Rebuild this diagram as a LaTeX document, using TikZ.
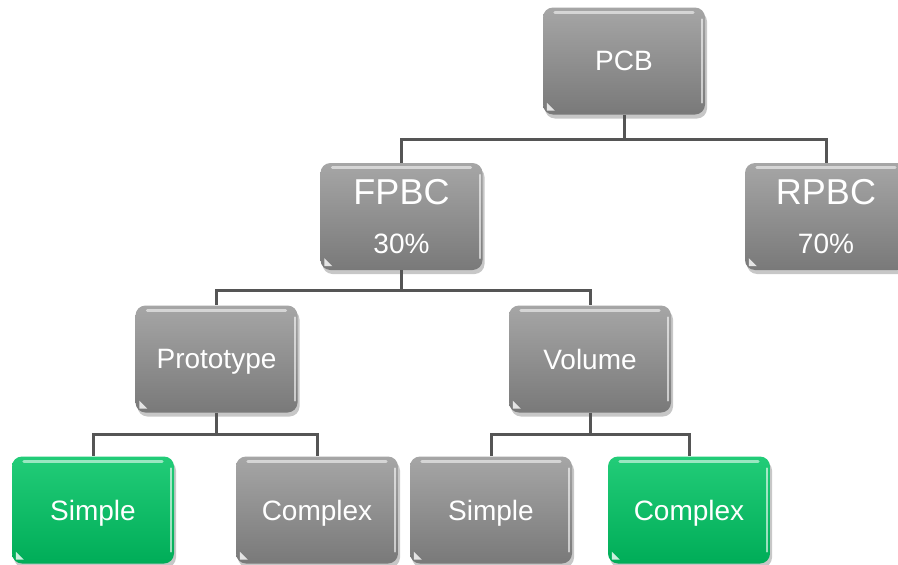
\documentclass[tikz,border=0pt]{standalone}
\usepackage{fontspec}
\setmainfont{Liberation Sans}
\usetikzlibrary{shadows}
\definecolor{boxgrayhi}{HTML}{A6A6A6}
\definecolor{boxgraylo}{HTML}{797979}
\definecolor{boxgreenhi}{HTML}{22CC78}
\definecolor{boxgreenlo}{HTML}{00AD58}
\definecolor{connline}{HTML}{555555}
\tikzset{
  treebox/.style={rounded corners=10pt, minimum width=162pt, minimum height=107pt,
    inner sep=0pt, text=white, font=\fontsize{28}{34}\selectfont, align=center,
    text depth=0pt,
    drop shadow={shadow xshift=2pt, shadow yshift=-4pt, opacity=0.22, fill=black}},
  graybox/.style={treebox, top color=boxgrayhi, bottom color=boxgraylo},
  greenbox/.style={treebox, top color=boxgreenhi, bottom color=boxgreenlo},
  conn/.style={draw=connline, line width=3pt},
  glosstop/.style={white, opacity=0.55, line width=3pt, line cap=round},
  glossside/.style={white, opacity=0.6, line width=2pt, line cap=round},
  glosscorner/.style={fill=white, opacity=0.8}
}
\begin{document}
\begin{tikzpicture}[x=1pt, y=-1pt]
  \clip (0,0) rectangle (898,565);
  \fill[white] (0,0) rectangle (898,565);

  % boxes
  \node[graybox] (pcb) at (624,61) {PCB};
  \node[graybox, font=\fontsize{28}{49}\selectfont] (fpbc) at (401.5,216.5)
    {{\fontsize{36}{49}\selectfont FPBC}\\30\%};
  \node[graybox, font=\fontsize{28}{49}\selectfont] (rpbc) at (826,216.5)
    {{\fontsize{36}{49}\selectfont RPBC}\\70\%};
  \node[graybox] (proto) at (216.5,359) {Prototype};
  \node[graybox] (volume) at (590,359) {Volume};
  \node[greenbox] (psimple) at (93,510) {Simple};
  \node[graybox] (pcomplex) at (317,510) {Complex};
  \node[graybox] (vsimple) at (491,510) {Simple};
  \node[greenbox] (vcomplex) at (689,510) {Complex};

  % glossy highlights on every box
  \foreach \n in {pcb,fpbc,rpbc,proto,volume,psimple,pcomplex,vsimple,vcomplex}{
    \draw[glosstop] ([xshift=12pt,yshift=-5pt]\n.north west) -- ([xshift=-12pt,yshift=-5pt]\n.north east);
    \draw[glossside] ([xshift=-3pt,yshift=-12pt]\n.north east) -- ([xshift=-3pt,yshift=12pt]\n.south east);
    \fill[glosscorner] ([xshift=4pt,yshift=4pt]\n.south west) -- ++(0,-8) -- ++(8,8) -- cycle;
  }

  % connectors
  \draw[conn] (pcb.south) -- ++(0,25) coordinate (bus1);
  \draw[conn] (bus1) -| (fpbc.north);
  \draw[conn] (bus1) -| (rpbc.north);

  \draw[conn] (fpbc.south) -- ++(0,20) coordinate (bus2);
  \draw[conn] (bus2) -| (proto.north);
  \draw[conn] (bus2) -| (volume.north);

  \draw[conn] (proto.south) -- ++(0,22) coordinate (bus3);
  \draw[conn] (bus3) -| (psimple.north);
  \draw[conn] (bus3) -| (pcomplex.north);

  \draw[conn] (volume.south) -- ++(0,22) coordinate (bus4);
  \draw[conn] (bus4) -| (vsimple.north);
  \draw[conn] (bus4) -| (vcomplex.north);
\end{tikzpicture}
\end{document}
